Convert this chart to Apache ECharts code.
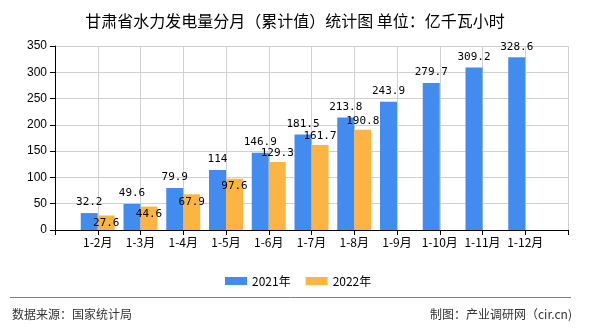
<!DOCTYPE html>
<html><head><meta charset="utf-8">
<script src="https://cdn.jsdelivr.net/npm/echarts@6/dist/echarts.min.js"></script>
<style>html,body{margin:0;padding:0;background:#fff}#c{width:590px;height:330px}</style>
</head><body><div id="c"></div>
<script>
const categories = ['1-2月','1-3月','1-4月','1-5月','1-6月','1-7月','1-8月','1-9月','1-10月','1-11月','1-12月'];
const series2021 = [32.2, 49.6, 79.9, 114, 146.9, 181.5, 213.8, 243.9, 279.7, 309.2, 328.6];
const series2022 = [27.6, 44.6, 67.9, 97.6, 129.3, 161.7, 190.8, null, null, null, null];
const seriesNames = ['2021年', '2022年'];
const yTicks = [0, 50, 100, 150, 200, 250, 300, 350];

const chart = echarts.init(document.getElementById('c'), null, {renderer: 'canvas'});
const xCats = [''].concat(categories, ['']);
const pad = arr => [null].concat(arr, [null]);
const labelFont = {fontFamily: 'DejaVu Sans Mono', fontSize: 11, color: '#000'};
const orangeData = pad(series2022).map((v, i) => {
  if (v == null) return v;
  const inside = i <= 4;
  return {value: v, label: inside ? {position: 'insideTop', distance: 2} : {position: 'top', distance: 3}};
});
chart.setOption({
  animation: false,
  backgroundColor: '#fff',
  title: {
    text: '甘肃省水力发电量分月（累计值）统计图 单位：亿千瓦小时',
    left: 'center', top: 8,
    textStyle: {fontFamily: 'Noto Sans CJK SC', fontSize: 16, fontWeight: 'normal', color: '#000'}
  },
  legend: {
    left: 220, top: 270, itemWidth: 22, itemHeight: 8, itemGap: 15,
    icon: 'rect',
    textStyle: {fontFamily: 'Noto Sans CJK SC', fontSize: 12, color: '#000'},
    data: seriesNames
  },
  grid: {left: 55, right: 22, top: 46, bottom: 100},
  xAxis: {
    type: 'category', data: xCats, boundaryGap: false,
    axisLine: {lineStyle: {color: '#000'}},
    axisTick: {show: true, length: 5, lineStyle: {color: '#000'}},
    axisLabel: {fontFamily: 'Noto Sans CJK SC', fontSize: 12, color: '#000', margin: 6, interval: 0},
    splitLine: {show: true, lineStyle: {color: '#d0d0d0'}}
  },
  yAxis: {
    type: 'value', min: yTicks[0], max: yTicks[yTicks.length - 1], interval: 50,
    axisLine: {show: true, lineStyle: {color: '#000'}},
    axisTick: {show: true, length: 5, lineStyle: {color: '#000'}},
    axisLabel: {fontFamily: 'Liberation Sans', fontSize: 12, color: '#000', margin: 8},
    splitLine: {show: true, lineStyle: {color: '#d0d0d0'}}
  },
  series: [
    {name: seriesNames[0], type: 'bar', data: pad(series2021), barWidth: 17, barGap: '0%',
     itemStyle: {color: '#438CEF'},
     label: Object.assign({show: true, position: 'top', distance: 5}, labelFont)},
    {name: seriesNames[1], type: 'bar', data: orangeData, barWidth: 17, barGap: '0%',
     itemStyle: {color: '#FCB443'},
     label: Object.assign({show: true, position: 'top'}, labelFont)}
  ],
  graphic: [
    {type: 'line', shape: {x1: 10, y1: 297.5, x2: 571, y2: 297.5}, style: {stroke: '#808080', lineWidth: 1}},
    {type: 'text', left: 12, top: 308, style: {text: '数据来源：国家统计局', font: '12px "Noto Sans CJK SC"', fill: '#333'}},
    {type: 'text', right: 18, top: 308, style: {text: '制图：产业调研网（cir.cn)', font: '12px "Noto Sans CJK SC"', fill: '#333'}}
  ]
});
</script></body></html>
